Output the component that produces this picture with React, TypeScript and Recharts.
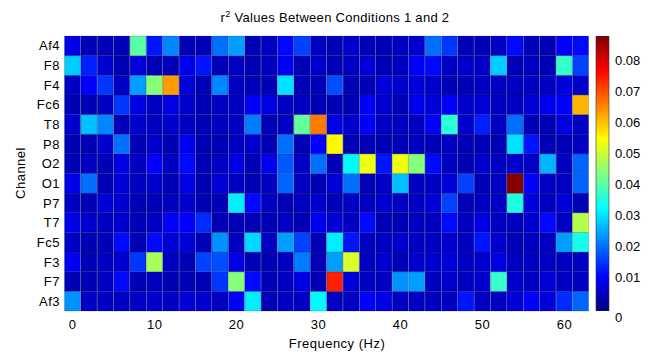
import React from 'react';
import { BarChart, Bar, XAxis, YAxis, Cell } from 'recharts';

const FREQS = [0, 2, 4, 6, 8, 10, 12, 14, 16, 18, 20, 22, 24, 26, 28, 30, 32, 34, 36, 38, 40, 42, 44, 46, 48, 50, 52, 54, 56, 58, 60, 62];
const CHANNELS = ['Af4', 'F8', 'F4', 'Fc6', 'T8', 'P8', 'O2', 'O1', 'P7', 'T7', 'Fc5', 'F3', 'F7', 'Af3'];
const X_TICKS = [0, 10, 20, 30, 40, 50, 60];
const CB_TICKS = [0, 0.01, 0.02, 0.03, 0.04, 0.05, 0.06, 0.07, 0.08];

const AF4 = [0.008, 0.004, 0.004, 0.004, 0.040, 0.012, 0.022, 0.004, 0.004, 0.020, 0.024, 0.004, 0.005, 0.011, 0.016, 0.005, 0.004, 0.006, 0.004, 0.004, 0.005, 0.006, 0.020, 0.015, 0.004, 0.004, 0.005, 0.011, 0.004, 0.004, 0.010, 0.011];
const F8 = [0.028, 0.013, 0.006, 0.004, 0.007, 0.004, 0.004, 0.009, 0.012, 0.004, 0.005, 0.004, 0.005, 0.009, 0.004, 0.006, 0.004, 0.005, 0.007, 0.004, 0.005, 0.010, 0.011, 0.005, 0.006, 0.005, 0.028, 0.004, 0.005, 0.004, 0.037, 0.016];
const F4 = [0.005, 0.010, 0.015, 0.005, 0.024, 0.044, 0.063, 0.007, 0.004, 0.022, 0.005, 0.004, 0.004, 0.030, 0.004, 0.004, 0.017, 0.004, 0.004, 0.007, 0.006, 0.007, 0.006, 0.004, 0.004, 0.005, 0.005, 0.005, 0.005, 0.005, 0.007, 0.006];
const FC6 = [0.004, 0.004, 0.005, 0.015, 0.008, 0.005, 0.008, 0.006, 0.004, 0.005, 0.005, 0.010, 0.008, 0.005, 0.005, 0.004, 0.004, 0.004, 0.010, 0.006, 0.004, 0.009, 0.007, 0.010, 0.006, 0.007, 0.005, 0.005, 0.007, 0.009, 0.010, 0.061];
const T8 = [0.006, 0.027, 0.022, 0.004, 0.006, 0.005, 0.006, 0.005, 0.004, 0.005, 0.005, 0.021, 0.004, 0.005, 0.041, 0.066, 0.008, 0.006, 0.010, 0.005, 0.005, 0.005, 0.010, 0.036, 0.006, 0.013, 0.005, 0.020, 0.004, 0.004, 0.008, 0.005];
const P8 = [0.004, 0.004, 0.006, 0.020, 0.004, 0.006, 0.004, 0.009, 0.004, 0.004, 0.005, 0.006, 0.004, 0.020, 0.004, 0.010, 0.055, 0.004, 0.004, 0.004, 0.004, 0.005, 0.004, 0.005, 0.004, 0.004, 0.004, 0.030, 0.012, 0.004, 0.004, 0.005];
const O2 = [0.004, 0.005, 0.004, 0.008, 0.005, 0.010, 0.005, 0.011, 0.004, 0.005, 0.008, 0.004, 0.009, 0.018, 0.005, 0.020, 0.004, 0.032, 0.053, 0.012, 0.053, 0.044, 0.011, 0.005, 0.004, 0.006, 0.005, 0.006, 0.005, 0.026, 0.005, 0.019];
const O1 = [0.008, 0.020, 0.004, 0.007, 0.005, 0.006, 0.004, 0.008, 0.004, 0.007, 0.005, 0.004, 0.005, 0.019, 0.005, 0.004, 0.007, 0.020, 0.004, 0.005, 0.027, 0.005, 0.005, 0.007, 0.016, 0.004, 0.005, 0.087, 0.010, 0.005, 0.005, 0.019];
const P7 = [0.005, 0.004, 0.007, 0.006, 0.004, 0.004, 0.005, 0.006, 0.004, 0.004, 0.031, 0.011, 0.005, 0.004, 0.005, 0.006, 0.004, 0.005, 0.005, 0.006, 0.005, 0.005, 0.007, 0.016, 0.004, 0.005, 0.005, 0.035, 0.007, 0.005, 0.007, 0.004];
const T7 = [0.008, 0.006, 0.005, 0.006, 0.004, 0.005, 0.010, 0.010, 0.014, 0.004, 0.004, 0.004, 0.004, 0.005, 0.004, 0.009, 0.007, 0.005, 0.011, 0.004, 0.004, 0.005, 0.005, 0.011, 0.005, 0.008, 0.005, 0.005, 0.006, 0.011, 0.005, 0.048];
const FC5 = [0.005, 0.004, 0.004, 0.011, 0.004, 0.011, 0.007, 0.007, 0.004, 0.023, 0.005, 0.029, 0.005, 0.024, 0.016, 0.004, 0.031, 0.012, 0.005, 0.005, 0.006, 0.005, 0.005, 0.006, 0.005, 0.012, 0.006, 0.004, 0.005, 0.005, 0.024, 0.034];
const F3 = [0.009, 0.004, 0.005, 0.006, 0.015, 0.047, 0.005, 0.004, 0.016, 0.017, 0.008, 0.004, 0.004, 0.005, 0.021, 0.004, 0.024, 0.051, 0.005, 0.006, 0.004, 0.006, 0.006, 0.007, 0.005, 0.006, 0.008, 0.005, 0.005, 0.005, 0.005, 0.005];
const F7 = [0.004, 0.004, 0.005, 0.011, 0.004, 0.005, 0.004, 0.004, 0.004, 0.015, 0.044, 0.011, 0.004, 0.005, 0.008, 0.004, 0.074, 0.007, 0.005, 0.005, 0.023, 0.024, 0.005, 0.006, 0.005, 0.006, 0.037, 0.006, 0.005, 0.007, 0.005, 0.005];
const AF3 = [0.023, 0.005, 0.005, 0.005, 0.005, 0.006, 0.005, 0.007, 0.006, 0.005, 0.010, 0.031, 0.004, 0.005, 0.005, 0.032, 0.005, 0.005, 0.010, 0.008, 0.005, 0.005, 0.005, 0.005, 0.012, 0.005, 0.005, 0.007, 0.010, 0.007, 0.014, 0.019];

const SERIES = [AF4, F8, F4, FC6, T8, P8, O2, O1, P7, T7, FC5, F3, F7, AF3];

const CB_MIN = -0.0008;
const CB_MAX = 0.0877;
const FONT = '"Liberation Sans", Arial, Helvetica, sans-serif';

const clamp = (x: number) => Math.max(0, Math.min(1, x));
const jetT = (t: number) => {
  const r = clamp(1.5 - Math.abs(4 * t - 3));
  const g = clamp(1.5 - Math.abs(4 * t - 2));
  const b = clamp(1.5 - Math.abs(4 * t - 1));
  return `rgb(${Math.round(r * 255)},${Math.round(g * 255)},${Math.round(b * 255)})`;
};
const jet = (v: number) => jetT(clamp((v - CB_MIN) / (CB_MAX - CB_MIN)));

const TABLE = FREQS.map((f, j) => {
  const row: any = { freq: String(f) };
  CHANNELS.forEach((_, i) => {
    row[`h${i}`] = 1;
    row[`v${i}`] = SERIES[i][j];
  });
  return row;
});

const ORDER = CHANNELS.map((_, i) => CHANNELS.length - 1 - i);
const Y_TICKS = CHANNELS.map((_, i) => i + 0.5);
const CB_DATA = [{ name: 'cb', range: [CB_MIN, CB_MAX] }];
const GRAD_STOPS = Array.from({ length: 33 }, (_, k) => k / 32);

const CbTick = (props: any) => {
  const { x, y, payload } = props;
  const v = payload.value as number;
  const dy = v === 0 ? 9 : 0;
  return (
    <text x={x} y={y + dy} dy="0.355em" textAnchor="start" fontSize={13} fill="#000" fontFamily={FONT}>
      {v === 0 ? '0' : v.toFixed(2)}
    </text>
  );
};

export default function App() {
  return (
    <div style={{ position: 'absolute', left: 0, top: 0, width: 654, height: 352, background: '#fff' }}>
      <div style={{ position: 'absolute', left: 0, top: 0 }}>
        <BarChart
          width={654}
          height={352}
          data={TABLE}
          margin={{ top: 36, right: 65, left: 24.5, bottom: 19 }}
          barCategoryGap={0}
          barGap={0}
        >
          <XAxis
            dataKey="freq"
            interval={4}
            axisLine={false}
            tickLine={false}
            tickSize={0}
            tickMargin={9}
            height={22}
            tick={{ fontSize: 13, fill: '#000', fontFamily: FONT, letterSpacing: 0.5 }}
            tickFormatter={(v: string) => (X_TICKS.includes(Number(v)) ? v : '')}
          />
          <YAxis
            type="number"
            domain={[0, CHANNELS.length]}
            ticks={Y_TICKS}
            interval={0}
            width={40}
            axisLine={false}
            tickLine={false}
            tickSize={0}
            tickMargin={4.5}
            tick={{ fontSize: 13, fill: '#000', fontFamily: FONT, letterSpacing: 0.5 }}
            tickFormatter={(v: number) => CHANNELS[CHANNELS.length - 1 - Math.floor(v)]}
          />
          {ORDER.map((i) => (
            <Bar
              key={CHANNELS[i]}
              dataKey={`h${i}`}
              stackId="s"
              isAnimationActive={false}
              stroke="rgba(0,0,0,0.22)"
              strokeWidth={0.8}
            >
              {TABLE.map((d, j) => (
                <Cell key={j} fill={jet(d[`v${i}`])} />
              ))}
            </Bar>
          ))}
        </BarChart>
      </div>
      <div style={{ position: 'absolute', left: 590, top: 0 }}>
        <BarChart
          width={60}
          height={352}
          data={CB_DATA}
          margin={{ top: 36, right: 6, left: 6, bottom: 41 }}
          barCategoryGap={0}
        >
          <defs>
            <linearGradient id="jetGrad" x1="0" y1="1" x2="0" y2="0">
              {GRAD_STOPS.map((t) => (
                <stop key={t} offset={t} stopColor={jetT(clamp(t))} />
              ))}
            </linearGradient>
          </defs>
          <XAxis dataKey="name" hide />
          <YAxis
            orientation="right"
            type="number"
            domain={[CB_MIN, CB_MAX]}
            allowDataOverflow
            ticks={CB_TICKS}
            interval={0}
            width={35}
            axisLine={false}
            tickLine={false}
            tickSize={0}
            tickMargin={6}
            tick={<CbTick />}
          />
          <Bar dataKey="range" fill="url(#jetGrad)" stroke="#333" strokeWidth={0.6} isAnimationActive={false} />
        </BarChart>
      </div>
      <svg width={654} height={352} style={{ position: 'absolute', left: 0, top: 0, pointerEvents: 'none' }}>
        <text x={335} y={22} textAnchor="middle" fontSize={13} fontFamily={FONT} fill="#000" letterSpacing={0.3}>
          r<tspan dy={-5} fontSize={9}>2</tspan>
          <tspan dy={5}> Values Between Conditions 1 and 2</tspan>
        </text>
        <text x={337} y={348} textAnchor="middle" fontSize={13} fontFamily={FONT} fill="#000" letterSpacing={0.5}>
          Frequency (Hz)
        </text>
        <text
          transform="translate(25,173) rotate(-90)"
          textAnchor="middle"
          fontSize={13}
          fontFamily={FONT}
          fill="#000"
          letterSpacing={0.5}
        >
          Channel
        </text>
      </svg>
    </div>
  );
}
